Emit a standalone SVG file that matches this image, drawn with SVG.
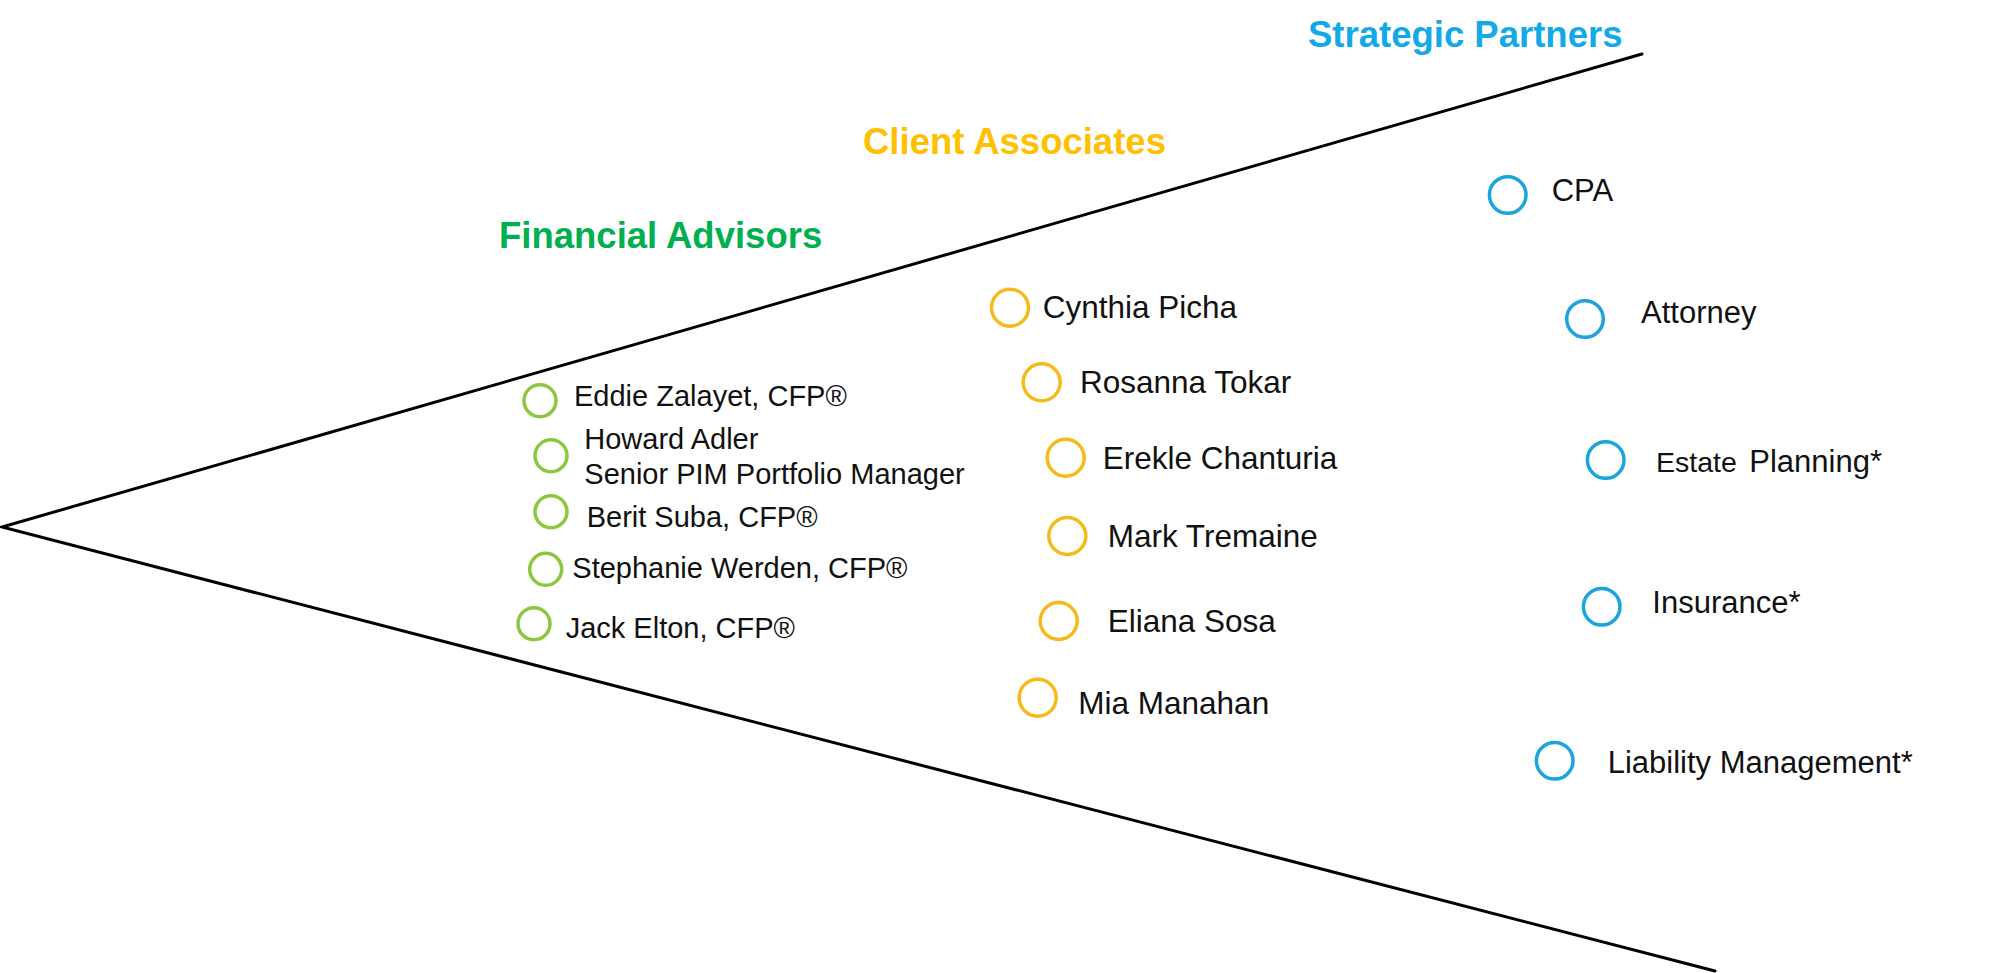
<svg xmlns="http://www.w3.org/2000/svg" width="2000" height="973" viewBox="0 0 2000 973">
<style>
text{font-family:"Liberation Sans",Arial,sans-serif;fill:#111}
.title{font-weight:bold;font-size:36.5px}
.fa{fill:#00B050}
.ca{fill:#FFC000}
.sp{fill:#12A9E8}
.g{fill:none;stroke:#8DC63F;stroke-width:3.5}
.y{fill:none;stroke:#F6BA1E;stroke-width:3.5}
.b{fill:none;stroke:#1BA4DE;stroke-width:3.5}
.lt{font-size:29px}
.mt{font-size:31.5px}
.rt{font-size:31px}
.funnel{fill:none;stroke:#000;stroke-width:3;stroke-linecap:round}
</style>
<rect width="2000" height="973" fill="#fff"/>
<g id="connectors">
<polyline class="funnel" points="1642,54 2,527 1715,971"/>
</g>
<g id="title-financial-advisors"><text class="title fa" x="499" y="248">Financial Advisors</text></g>
<g id="title-client-associates"><text class="title ca" x="863" y="154">Client Associates</text></g>
<g id="title-strategic-partners"><text class="title sp" x="1308" y="46.5">Strategic Partners</text></g>

<g id="fa-eddie"><circle class="g" cx="540" cy="400.7" r="16"/><text class="lt" x="574" y="405.7">Eddie Zalayet, CFP®</text></g>
<g id="fa-howard"><circle class="g" cx="551" cy="455.7" r="16"/><text class="lt" x="584.3" y="449.3">Howard Adler</text><text class="lt" x="584.3" y="484">Senior PIM Portfolio Manager</text></g>
<g id="fa-berit"><circle class="g" cx="551" cy="511.7" r="16"/><text class="lt" x="586.7" y="527.3">Berit Suba, CFP®</text></g>
<g id="fa-stephanie"><circle class="g" cx="545.7" cy="569.3" r="16"/><text class="lt" x="572.3" y="578.3">Stephanie Werden, CFP®</text></g>
<g id="fa-jack"><circle class="g" cx="534" cy="623.7" r="16"/><text class="lt" x="565.7" y="637.7">Jack Elton, CFP®</text></g>

<g id="ca-cynthia"><circle class="y" cx="1010" cy="307.7" r="18.5"/><text class="mt" x="1042.7" y="318.3">Cynthia Picha</text></g>
<g id="ca-rosanna"><circle class="y" cx="1041.7" cy="382.3" r="18.5"/><text class="mt" x="1080" y="392.7">Rosanna Tokar</text></g>
<g id="ca-erekle"><circle class="y" cx="1065.7" cy="457.7" r="18.5"/><text class="mt" x="1102.7" y="469">Erekle Chanturia</text></g>
<g id="ca-mark"><circle class="y" cx="1067.3" cy="536" r="18.5"/><text class="mt" x="1107.7" y="546.7">Mark Tremaine</text></g>
<g id="ca-eliana"><circle class="y" cx="1058.7" cy="621" r="18.5"/><text class="mt" x="1107.7" y="632.3">Eliana Sosa</text></g>
<g id="ca-mia"><circle class="y" cx="1037.7" cy="697.7" r="18.5"/><text class="mt" x="1078.3" y="714.3">Mia Manahan</text></g>

<g id="sp-cpa"><circle class="b" cx="1507.7" cy="195" r="18.3"/><text class="rt" x="1551.7" y="201">CPA</text></g>
<g id="sp-attorney"><circle class="b" cx="1585" cy="319" r="18.3"/><text class="rt" x="1641" y="323.3">Attorney</text></g>
<g id="sp-estate"><circle class="b" cx="1605.7" cy="460" r="18.3"/><text x="1656" y="471.7"><tspan style="font-size:28.5px">Estate</tspan><tspan class="rt" x="1749.3">Planning*</tspan></text></g>
<g id="sp-insurance"><circle class="b" cx="1601.7" cy="606.7" r="18.3"/><text class="rt" x="1652.3" y="612.7">Insurance*</text></g>
<g id="sp-liability"><circle class="b" cx="1554.7" cy="760.7" r="18.3"/><text class="rt" x="1607.7" y="773.3">Liability Management*</text></g>
</svg>
